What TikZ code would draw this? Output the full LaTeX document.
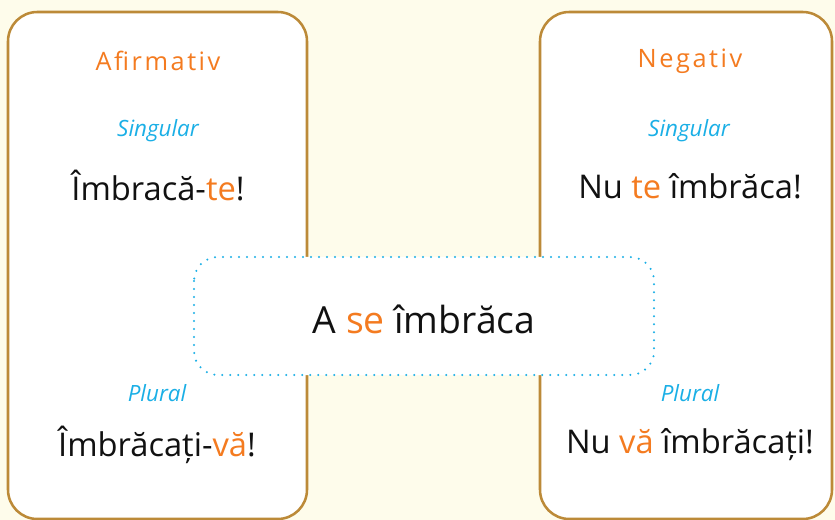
\documentclass[tikz,border=0pt]{standalone}
\usepackage{fontspec}
\setmainfont{Open Sans}
\usepackage{tikz}
\usetikzlibrary{positioning}
\definecolor{cream}{HTML}{FEFCEB}
\definecolor{frame}{HTML}{BC8A38}
\definecolor{accent}{HTML}{F47B20}
\definecolor{sky}{HTML}{1AAFE6}
\definecolor{ink}{HTML}{111111}
\newcommand{\hi}[1]{\textcolor{accent}{#1}}
\tikzset{
  panel/.style={draw=frame,fill=white,line width=1.9pt,rounded corners=22pt},
  title/.style={text=accent,font=\fontsize{19}{22}\selectfont\addfontfeatures{LetterSpace=10}},
  numlabel/.style={text=sky,font=\fontsize{16.8}{19}\selectfont\itshape},
  phrase/.style={text=ink,font=\fontsize{24.5}{28}\selectfont},
}
\begin{document}
\begin{tikzpicture}[x=0.75pt,y=-0.75pt]
\useasboundingbox[fill=cream] (0,0) rectangle (835,520);
% side panels
\draw[panel] (8,12) rectangle (307,519);
\draw[panel] (540,12) rectangle (832,519);
% left column
\node[title] (aff) at (158,61) {Afirmativ};
\node[numlabel] (affsg) at (158,131) {Singular};
\node[phrase] (affsgtxt) at (158,186) {Îmbracă-\hi{te}!};
\node[numlabel] (affpl) at (157,393) {Plural};
\node[phrase] (affpltxt) at (157,445) {Îmbrăcați-\hi{vă}!};
% right column
\node[title] (neg) at (690,61) {Negativ};
\node[numlabel] (negsg) at (689,131) {Singular};
\node[phrase] (negsgtxt) at (690,186) {Nu \hi{te} îmbrăca!};
\node[numlabel] (negpl) at (690,393) {Plural};
\node[phrase] (negpltxt) at (690,445) {Nu \hi{vă} îmbrăcați!};
% centre
\draw[draw=sky,fill=white,line width=1.7pt,line cap=round,dash pattern=on 0pt off 6pt,rounded corners=18pt] (194,257) rectangle (654,375);
\node[phrase,font=\fontsize{28}{32}\selectfont] (verb) at (424,319) {A \hi{se} îmbrăca};
\end{tikzpicture}
\end{document}
